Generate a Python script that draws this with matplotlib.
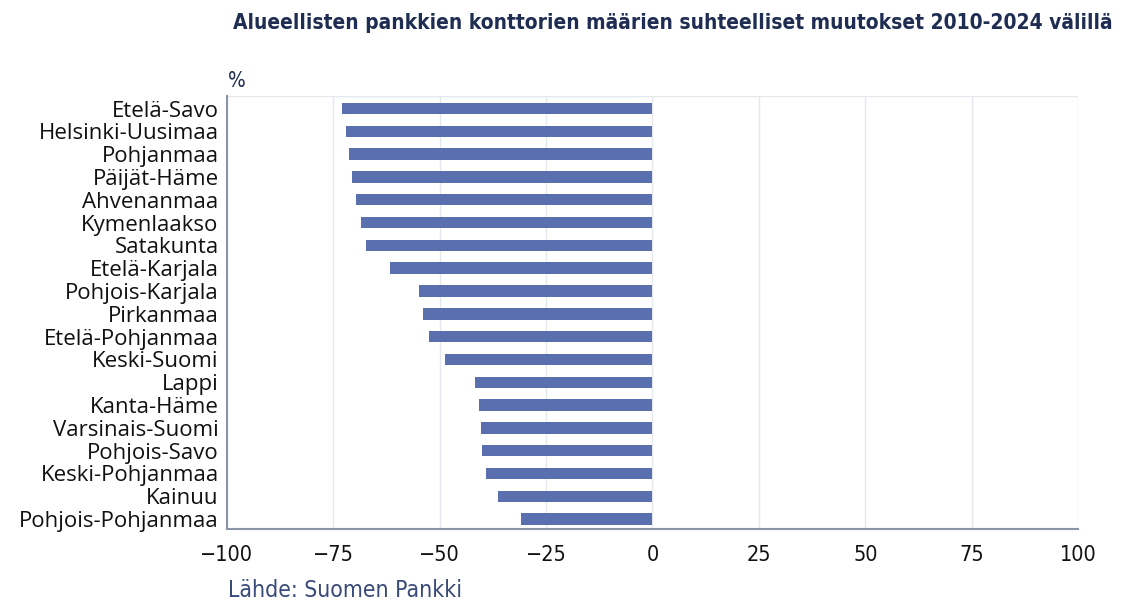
import matplotlib
matplotlib.use("Agg")
import matplotlib.pyplot as plt
from matplotlib import font_manager

regions = [
    "Etelä-Savo", "Helsinki-Uusimaa", "Pohjanmaa", "Päijät-Häme", "Ahvenanmaa",
    "Kymenlaakso", "Satakunta", "Etelä-Karjala", "Pohjois-Karjala", "Pirkanmaa",
    "Etelä-Pohjanmaa", "Keski-Suomi", "Lappi", "Kanta-Häme", "Varsinais-Suomi",
    "Pohjois-Savo", "Keski-Pohjanmaa", "Kainuu", "Pohjois-Pohjanmaa",
]
change_pct = [
    -72.9, -72.0, -71.3, -70.7, -69.7,
    -68.5, -67.3, -61.6, -54.9, -54.0,
    -52.6, -48.8, -41.7, -40.8, -40.3,
    -40.1, -39.2, -36.4, -30.9,
]
x_ticks = [-100, -75, -50, -25, 0, 25, 50, 75, 100]

TITLE = "Alueellisten pankkien konttorien määrien suhteelliset muutokset 2010-2024 välillä"
SOURCE = "Lähde: Suomen Pankki"

_NAVY = "#1f2d52"
_BAR = "#5a6fae"
_SPINE = "#8a96a8"
_GRID = "#e4e7ec"

# condensed face if the DejaVu condensed files are there, else plain DejaVu
cond = [f for f in font_manager.fontManager.ttflist
        if f.name == "DejaVu Sans" and "ondensed" in f.fname]
narrow = dict(family="DejaVu Sans", stretch="condensed") if cond else dict(family="DejaVu Sans")

fig = plt.figure(figsize=(11.22, 6.05), dpi=100)
ax = fig.add_axes([0.2023, 0.1251, 0.7585, 0.7162])

ypos = list(range(len(regions)))
ax.barh(ypos, change_pct, height=0.5, color=_BAR, zorder=3)
ax.set_ylim(len(regions) - 0.55, -0.55)
ax.set_xlim(-100, 100)
ax.set_xticks(x_ticks)
ax.set_xticklabels([str(t).replace("-", "\u2212") for t in x_ticks],
                   fontsize=15.5, color="#111111", **narrow)
ax.set_yticks(ypos)
ax.set_yticklabels(regions, fontfamily="Open Sans", fontsize=16, color="#111111")
ax.tick_params(length=0, pad=6)
ax.tick_params(axis="x", pad=11)

ax.grid(axis="x", color=_GRID, linewidth=1, zorder=0)
ax.axhline(-0.55, color=_GRID, linewidth=1, zorder=0)
for side in ("top", "right"):
    ax.spines[side].set_visible(False)
for side in ("left", "bottom"):
    ax.spines[side].set_color(_SPINE)
    ax.spines[side].set_linewidth(1.5)

fig.text(0.5994, 0.962, TITLE, ha="center", va="center",
         fontweight="bold", fontsize=15, color=_NAVY, **narrow)
fig.text(0.203, 0.866, "%", ha="left", va="center",
         fontsize=15, color=_NAVY, **narrow)
fig.text(0.203, 0.024, SOURCE, ha="left", va="center",
         fontsize=16.5, color="#3a4a78", **narrow)

fig.savefig("out.png", dpi=100, facecolor="white")
